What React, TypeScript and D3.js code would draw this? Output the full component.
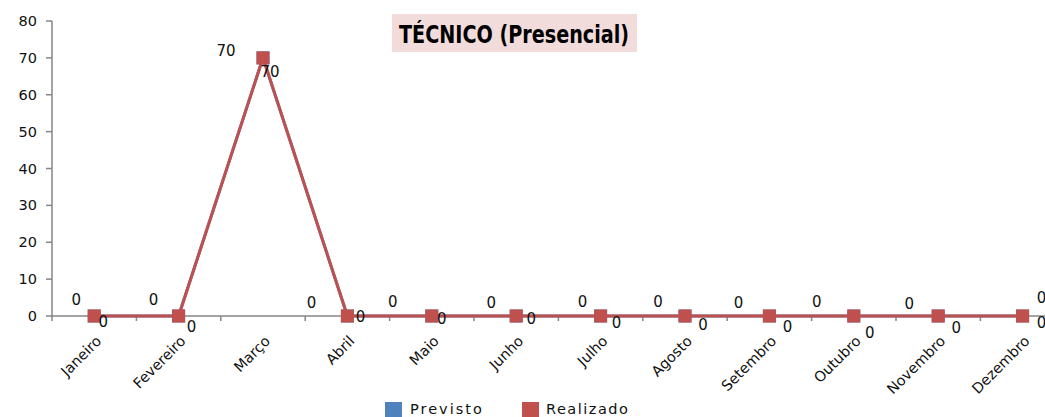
import * as d3 from "d3";

const W = 1045, H = 417;
const PAD = { left: 52, top: 21, bottom: 316 };
const BAND = 84.4;

const months = ["Janeiro", "Fevereiro", "Março", "Abril", "Maio", "Junho", "Julho", "Agosto", "Setembro", "Outubro", "Novembro", "Dezembro"];
const previsto = [0, 0, 70, 0, 0, 0, 0, 0, 0, 0, 0, 0];
const realizado = [0, 0, 70, 0, 0, 0, 0, 0, 0, 0, 0, 0];
const yTickValues = [0, 10, 20, 30, 40, 50, 60, 70, 80];

// label nudges (px from the point)
const prevNudge: [number, number][] = [[-18, -16], [-25, -16], [-37, -7], [-36, -13], [-39, -14], [-25, -13], [-18, -14], [-27, -14], [-31, -13], [-37, -14], [-29, -12], [19, -18]];
const realNudge: [number, number][] = [[9, 6], [13, 11], [7, 14], [13, 1], [10, 3], [15, 3], [16, 7], [18, 9], [18, 11], [16, 17], [18, 12], [19, 7]];

const BLUE = "#4F81BD", RED = "#C0504D", AXIS = "#868686", INK = "#111";
const FONT = "'DejaVu Sans', Verdana, sans-serif";

export default function App() {
  const x = d3.scaleBand<string>().domain(months).range([PAD.left, PAD.left + BAND * months.length]);
  const y = d3.scaleLinear().domain([0, 80]).range([PAD.bottom, PAD.top]);
  const cx = (i: number) => x(months[i])! + x.bandwidth() / 2;

  const line = d3.line<number>().x((_, i) => cx(i)).y((v) => y(v));

  return (
    <svg width={W} height={H} style={{ position: "absolute", left: 0, top: 0, background: "#fff" }}>
      {/* Title */}
      <rect x={392} y={14} width={245} height={38} fill="#F2DCDB" />
      <text x={514} y={43} textAnchor="middle" fontSize={25} fontWeight="bold"
        fontFamily="'Liberation Sans Narrow', 'DejaVu Sans Condensed', Arial, sans-serif"
        textLength={230} lengthAdjust="spacingAndGlyphs" fill="#000">
        TÉCNICO (Presencial)
      </text>

      {/* Y axis */}
      <line x1={PAD.left} y1={y(80)} x2={PAD.left} y2={PAD.bottom + 5} stroke={AXIS} strokeWidth={1.5} />
      {yTickValues.map((t) => (
        <g key={t}>
          <line x1={PAD.left - 6} y1={y(t)} x2={PAD.left} y2={y(t)} stroke={AXIS} strokeWidth={1.5} />
          <text x={37} y={y(t) + 5} textAnchor="end" fontSize={14.5} fill={INK} fontFamily={FONT}>{t}</text>
        </g>
      ))}

      {/* X axis */}
      <line x1={PAD.left} y1={PAD.bottom} x2={PAD.left + BAND * months.length} y2={PAD.bottom} stroke={AXIS} strokeWidth={1.5} />
      {months.map((m) => (
        <line key={m} x1={x(m)! + BAND} y1={PAD.bottom} x2={x(m)! + BAND} y2={PAD.bottom + 5} stroke={AXIS} strokeWidth={1.5} />
      ))}
      {months.map((m, i) => (
        <text key={m} transform={`translate(${cx(i) + 8},${342}) rotate(-45)`} textAnchor="end"
          fontSize={14.5} fill={INK} fontFamily={FONT}>{m}</text>
      ))}

      {/* Previsto (under) */}
      <path d={line(previsto)!} fill="none" stroke={BLUE} strokeWidth={3} />
      {previsto.map((v, i) => (
        <rect key={`p${i}`} x={cx(i) - 6.5} y={y(v) - 6.5} width={13} height={13} fill={BLUE} />
      ))}

      {/* Realizado */}
      <path d={line(realizado)!} fill="none" stroke={RED} strokeWidth={3} />
      {realizado.map((v, i) => (
        <rect key={`r${i}`} x={cx(i) - 6.5} y={y(v) - 6.5} width={13} height={13} fill={RED} />
      ))}

      {/* Data labels */}
      {previsto.map((v, i) => (
        <text key={`pl${i}`} x={cx(i) + prevNudge[i][0]} y={y(v) + prevNudge[i][1] + 5} textAnchor="middle"
          fontSize={15} fill={INK} fontFamily={FONT}>{v}</text>
      ))}
      {realizado.map((v, i) => (
        <text key={`rl${i}`} x={cx(i) + realNudge[i][0]} y={y(v) + realNudge[i][1] + 5} textAnchor="middle"
          fontSize={15} fill={INK} fontFamily={FONT}>{v}</text>
      ))}

      {/* Legend */}
      <rect x={385} y={402} width={17} height={17} fill={BLUE} />
      <text x={410} y={414} fontSize={14.5} letterSpacing={2} fill={INK} fontFamily={FONT}>Previsto</text>
      <rect x={522} y={402} width={17} height={17} fill={RED} />
      <text x={546} y={414} fontSize={14.5} letterSpacing={1.5} fill={INK} fontFamily={FONT}>Realizado</text>
    </svg>
  );
}
